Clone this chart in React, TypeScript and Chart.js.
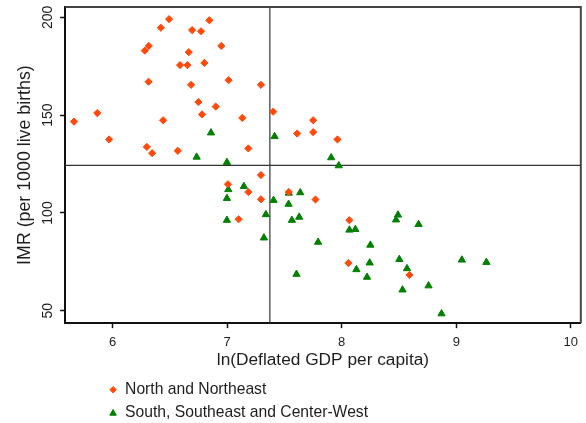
import React, { useEffect, useRef } from 'react';
import { Chart, registerables } from 'chart.js';

Chart.register(...registerables);

// North and Northeast (orange diamonds)
const northX = [5.663, 5.866, 5.970, 6.281, 6.316, 6.314, 6.299, 6.345, 6.421, 6.493, 6.441, 6.569, 6.589, 6.653, 6.665, 6.694, 6.685, 6.772, 6.845, 6.801, 6.749, 6.781, 6.900, 6.949, 7.013, 7.132, 7.185, 7.295, 7.295, 7.402, 7.611, 7.751, 7.751, 7.963, 7.007, 7.185, 7.295, 7.100, 7.538, 7.771, 8.067, 8.058, 8.592];
const northY = [146.7, 151.1, 137.6, 183.0, 185.4, 167.1, 133.8, 130.6, 194.7, 199.1, 147.4, 131.8, 175.6, 175.6, 182.2, 193.5, 165.5, 192.9, 198.5, 176.7, 156.7, 150.4, 154.4, 185.4, 167.9, 148.6, 133.0, 165.5, 119.4, 151.8, 140.6, 147.4, 141.3, 137.6, 114.7, 110.7, 107.0, 96.8, 110.7, 106.9, 96.3, 74.4, 68.3];

// South, Southeast and Center-West (green triangles)
const southX = [6.859, 6.734, 6.998, 7.414, 7.908, 7.974, 7.010, 7.146, 6.998, 7.405, 7.338, 6.998, 7.321, 7.538, 7.638, 7.536, 7.565, 7.629, 7.794, 7.605, 8.067, 8.119, 8.250, 8.128, 8.244, 8.221, 8.491, 8.474, 8.671, 8.503, 8.570, 8.531, 8.758, 8.871, 9.049, 9.263];
const southY = [141.0, 128.6, 125.9, 139.1, 128.3, 124.2, 112.0, 113.6, 107.5, 106.5, 99.2, 96.3, 87.3, 110.2, 110.4, 104.5, 96.3, 97.9, 85.1, 68.7, 91.3, 91.6, 83.6, 71.1, 74.5, 67.2, 99.0, 96.5, 94.2, 76.3, 71.6, 60.7, 62.8, 48.5, 76.0, 74.8];

const seriesLabels = ['North and Northeast', 'South, Southeast and Center-West'];
const seriesColors = ['#ff4a0c', '#008000'];
const seriesStyles = ['rectRot', 'triangle'];

const xTicks = [6, 7, 8, 9, 10];
const yTicks = [50, 100, 150, 200];
const xRange = [5.585, 10.087];
const yRange = [43.7, 205.3];
const refX = 7.373;
const refY = 124.3;

const xTitle = 'ln(Deflated GDP per capita)';
const yTitle = 'IMR (per 1000 live births)';

const FONT = '"Liberation Sans", Arial, Helvetica, sans-serif';
const TEXT = '#1e1e1e';

function drawMarker(ctx: CanvasRenderingContext2D, style: string, x: number, y: number, r: number) {
  ctx.beginPath();
  if (style === 'rectRot') {
    ctx.moveTo(x - r, y);
    ctx.lineTo(x, y - r);
    ctx.lineTo(x + r, y);
    ctx.lineTo(x, y + r);
  } else {
    ctx.moveTo(x, y - r);
    ctx.lineTo(x + r * 0.866, y + r / 2);
    ctx.lineTo(x - r * 0.866, y + r / 2);
  }
  ctx.closePath();
  ctx.fill();
  ctx.stroke();
}

const decorPlugin = {
  id: 'decor',
  beforeDatasetsDraw(chart: any) {
    const { ctx, chartArea: a, scales } = chart;
    const px = scales.x.getPixelForValue(refX);
    const py = scales.y.getPixelForValue(refY);
    ctx.save();
    ctx.strokeStyle = '#333333';
    ctx.lineWidth = 1.2;
    ctx.beginPath();
    ctx.moveTo(px, a.top);
    ctx.lineTo(px, a.bottom);
    ctx.moveTo(a.left, py);
    ctx.lineTo(a.right, py);
    ctx.stroke();
    ctx.strokeStyle = '#444444';
    ctx.lineWidth = 2;
    ctx.beginPath();
    ctx.moveTo(a.left, a.top);
    ctx.lineTo(a.right, a.top);
    ctx.lineTo(a.right, a.bottom);
    ctx.stroke();
    ctx.restore();
  },
  afterDraw(chart: any) {
    const { ctx, chartArea: a, scales } = chart;
    const baseY = scales.x.bottom;
    const mx = a.left + 48;
    ctx.save();
    ctx.font = `15.7px ${FONT}`;
    ctx.textBaseline = 'middle';
    ctx.textAlign = 'left';
    seriesLabels.forEach((label, i) => {
      const y = baseY + 19 + i * 22.6;
      const r = i === 0 ? 3.2 : 3.8;
      ctx.fillStyle = seriesColors[i];
      ctx.strokeStyle = seriesColors[i];
      ctx.lineWidth = 1;
      drawMarker(ctx, seriesStyles[i], mx, y + (i === 1 ? 1 : 0), r);
      ctx.fillStyle = TEXT;
      ctx.fillText(label, mx + 12, y);
    });
    ctx.restore();
  },
};

export default function App() {
  const ref = useRef<HTMLCanvasElement>(null);

  useEffect(() => {
    if (!ref.current) return;
    const north = northX.map((x, i) => ({ x, y: northY[i] }));
    const south = southX.map((x, i) => ({ x, y: southY[i] }));
    const chart = new Chart(ref.current, {
      type: 'scatter',
      data: {
        datasets: [
          {
            label: seriesLabels[0],
            data: north,
            pointStyle: 'rectRot',
            pointRadius: 3.6,
            pointBorderWidth: 1,
            backgroundColor: seriesColors[0],
            borderColor: seriesColors[0],
          },
          {
            label: seriesLabels[1],
            data: south,
            pointStyle: 'triangle',
            pointRadius: 4.2,
            pointBorderWidth: 1,
            backgroundColor: seriesColors[1],
            borderColor: seriesColors[1],
          },
        ],
      },
      options: {
        animation: false,
        responsive: true,
        maintainAspectRatio: false,
        layout: { padding: { left: 10.3, top: 0, right: 4, bottom: 52.3 } },
        plugins: {
          legend: { display: false },
          tooltip: { enabled: false },
        },
        scales: {
          x: {
            type: 'linear',
            min: xRange[0],
            max: xRange[1],
            afterBuildTicks: (s: any) => {
              s.ticks = xTicks.map((v) => ({ value: v }));
            },
            grid: { display: true, drawOnChartArea: false, drawTicks: true, tickLength: 5, tickWidth: 1.5, tickColor: '#111' },
            border: { display: true, color: '#111', width: 2 },
            ticks: { color: TEXT, padding: 6.5, font: { family: FONT, size: 13, lineHeight: 1.2 }, maxRotation: 0 },
            title: { display: true, text: xTitle, color: TEXT, font: { family: FONT, size: 17.3, lineHeight: 1.2 }, padding: { top: -6.8, bottom: 0 } },
          },
          y: {
            type: 'linear',
            min: yRange[0],
            max: yRange[1],
            afterBuildTicks: (s: any) => {
              s.ticks = yTicks.map((v) => ({ value: v }));
            },
            grid: { display: true, drawOnChartArea: false, drawTicks: true, tickLength: 5, tickWidth: 1.5, tickColor: '#111' },
            border: { display: true, color: '#111', width: 2 },
            ticks: { color: TEXT, padding: 0, minRotation: 90, maxRotation: 90, crossAlign: 'center', font: { family: FONT, size: 14, lineHeight: 1 } },
            title: { display: true, text: yTitle, color: TEXT, font: { family: FONT, size: 17.8, lineHeight: 1.2 }, padding: { top: 4, bottom: 10.4 } },
          },
        },
      } as any,
      plugins: [decorPlugin],
    });
    return () => chart.destroy();
  }, []);

  return (
    <div style={{ position: 'fixed', left: 0, top: 0, width: 586, height: 423, background: '#fff' }}>
      <canvas ref={ref} />
    </div>
  );
}
